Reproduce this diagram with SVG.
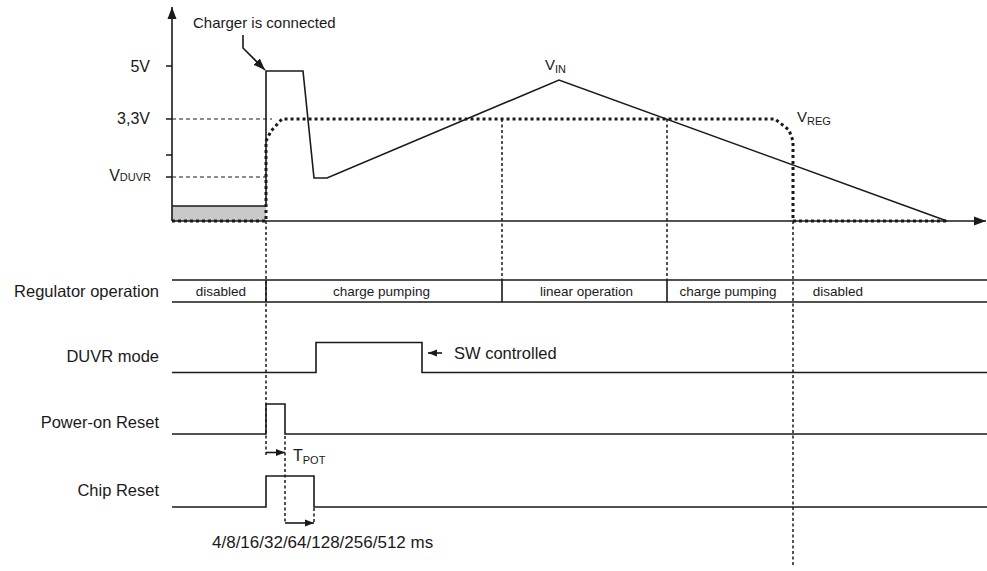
<svg xmlns="http://www.w3.org/2000/svg" width="987" height="571" viewBox="0 0 987 571">
<style>
text{font-family:"Liberation Sans",Arial,sans-serif;fill:#1a1a1a}
.lbl{font-size:16.5px;text-anchor:end}
.axl{font-size:16px;text-anchor:end}
.bar{font-size:13.5px;text-anchor:middle}
.ln{fill:none;stroke:#1a1a1a;stroke-width:1.6}
.thin{fill:none;stroke:#1a1a1a;stroke-width:1;stroke-dasharray:4 3}
.vd{fill:none;stroke:#1a1a1a;stroke-width:1.5;stroke-dasharray:3 2.5}
.dot{fill:none;stroke:#1a1a1a;stroke-width:3;stroke-dasharray:3 3}
</style>
<defs>
<marker id="big" markerUnits="userSpaceOnUse" markerWidth="12" markerHeight="10" viewBox="0 0 12 10" refX="12" refY="5" orient="auto"><path d="M0,0.5 L12,5 L0,9.5 Z" fill="#1a1a1a"/></marker>
<marker id="sm" markerUnits="userSpaceOnUse" markerWidth="9" markerHeight="8" viewBox="0 0 9 8" refX="9" refY="4" orient="auto"><path d="M0,0.6 L9,4 L0,7.4 Z" fill="#1a1a1a"/></marker>
</defs>

<g id="axes">
<rect x="172" y="206" width="94" height="15" fill="#c8c8c8"/>
<line class="ln" x1="172" y1="221" x2="172" y2="7" marker-end="url(#big)"/>
<line class="ln" x1="172" y1="221" x2="986" y2="221" marker-end="url(#big)"/>
<path class="ln" d="M166,66 H172 M166,119 H172 M166,155 H172 M166,177 H172"/>
<path class="thin" d="M172,119 H272 M172,177 H266"/>
<text class="axl" x="150" y="72">5V</text>
<text class="axl" x="150" y="124">3,3V</text>
<text class="axl" x="151" y="181">V<tspan font-size="11">DUVR</tspan></text>
</g>

<g id="guides">
<path class="vd" d="M266,221 V457 M502,119 V280 M667,119 V280 M793,221 V567 M285,436 V523 M314,508 V523"/>
</g>

<g id="vin">
<path class="ln" d="M172,206 H266 V71 H303 L314,178 H327 L559,80 L947,221"/>
<text x="545" y="70" font-size="15">V<tspan font-size="11" dy="3">IN</tspan></text>
</g>

<g id="vreg">
<path class="dot" d="M172,221 H266 V141 L271,131 L282,119 H775 L789,130 L793,141 V221 H947"/>
<text x="797" y="122" font-size="15">V<tspan font-size="11" dy="3">REG</tspan></text>
</g>

<g id="charger">
<text x="193" y="28" font-size="15">Charger is connected</text>
</g>

<g id="regulator">
<text class="lbl" x="159" y="296.5">Regulator operation</text>
<path class="ln" d="M172,280 H987 M172,302 H987 M266,280 V302 M502,280 V302 M667,280 V302"/>
<text class="bar" x="221" y="296">disabled</text>
<text class="bar" x="381.5" y="296">charge pumping</text>
<text class="bar" x="586.5" y="296">linear operation</text>
<text class="bar" x="728" y="296">charge pumping</text>
<text class="bar" x="838" y="296">disabled</text>
</g>

<g id="duvr">
<text class="lbl" x="159" y="361.7">DUVR mode</text>
<path class="ln" d="M172,372.5 H316 V342.5 H422 V372.5 H987"/>
<text x="454" y="358.5" font-size="16.5">SW controlled</text>
</g>

<g id="por">
<text class="lbl" x="159" y="428.3">Power-on Reset</text>
<path class="ln" d="M172,434 H266 V404 H285 V434 H987"/>
<text x="293" y="461" font-size="16">T<tspan font-size="11" dy="3">POT</tspan></text>
</g>

<g id="chip">
<text class="lbl" x="159" y="495.7">Chip Reset</text>
<path class="ln" d="M172,507 H266 V476 H314 V507 H987"/>
<text x="212" y="548" font-size="17">4/8/16/32/64/128/256/512 ms</text>
</g>

<g id="connectors">
<polyline class="ln" points="243,35 243,48 265,70" marker-end="url(#big)"/>
<line class="ln" x1="442" y1="353" x2="428" y2="353" marker-end="url(#sm)"/>
<line class="ln" x1="266" y1="452.5" x2="285" y2="452.5" marker-end="url(#sm)"/>
<line class="ln" x1="285" y1="523" x2="314" y2="523" marker-end="url(#sm)"/>
</g>
</svg>
